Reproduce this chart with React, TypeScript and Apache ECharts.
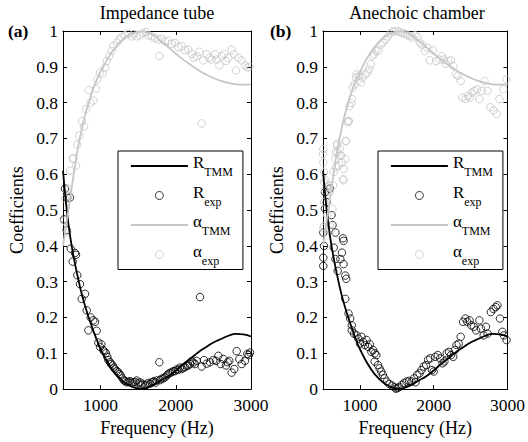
import React, { useEffect, useRef } from 'react';
import * as echarts from 'echarts';

const FONT = 'Liberation Serif';
const GRAY = '#c6c6c6';

const xTicks = [1000, 2000, 3000];
const yTickLabels = ['0', '0.1', '0.2', '0.3', '0.4', '0.5', '0.6', '0.7', '0.8', '0.9', '1'];
const panelTitles = ['Impedance tube', 'Anechoic chamber'];
const panelTags = ['(a)', '(b)'];
const seriesNames = ['RTMM', 'Rexp', 'αTMM', 'αexp'];

// Model curves (same in both panels)
const freqTMM = [500, 550, 600, 650, 700, 750, 800, 850, 900, 950, 1000, 1100, 1200, 1300, 1400, 1500, 1550, 1600, 1700, 1800, 1900, 2000, 2100, 2200, 2300, 2400, 2500, 2600, 2700, 2800, 2900, 3000];
const rTMM = [0.61, 0.5, 0.42, 0.36, 0.31, 0.265, 0.228, 0.195, 0.165, 0.137, 0.112, 0.072, 0.042, 0.021, 0.008, 0.002, 0.001, 0.003, 0.012, 0.024, 0.036, 0.052, 0.07, 0.086, 0.103, 0.117, 0.13, 0.14, 0.149, 0.154, 0.153, 0.147];
const alphaTMM = [0.4, 0.47, 0.54, 0.61, 0.675, 0.725, 0.77, 0.805, 0.838, 0.864, 0.885, 0.925, 0.955, 0.978, 0.992, 0.998, 0.999, 0.997, 0.988, 0.972, 0.955, 0.937, 0.92, 0.905, 0.891, 0.879, 0.869, 0.861, 0.855, 0.851, 0.85, 0.851];

// (a) Impedance tube measurements
const tubeRexp = [
  [513, 0.474], [527, 0.56], [557, 0.534], [593, 0.535], [549, 0.444], [602, 0.392], [629, 0.356], [660, 0.38], [673, 0.375], [690, 0.318],
  [726, 0.293], [749, 0.252], [793, 0.266], [815, 0.22], [837, 0.164], [868, 0.2], [903, 0.192], [926, 0.188], [948, 0.163], [970, 0.13],
  [992, 0.118], [1010, 0.125], [1036, 0.109], [1050, 0.105], [1072, 0.1], [1090, 0.09], [1103, 0.081], [1125, 0.075], [1140, 0.07], [1161, 0.066],
  [1175, 0.06], [1192, 0.056], [1215, 0.05], [1236, 0.047], [1250, 0.042], [1267, 0.038], [1290, 0.03], [1311, 0.024], [1330, 0.022], [1347, 0.019],
  [1370, 0.02], [1391, 0.022], [1415, 0.018], [1436, 0.019], [1460, 0.02], [1480, 0.024], [1500, 0.016], [1524, 0.019], [1540, 0.012], [1560, 0.015],
  [1591, 0.01], [1610, 0.012], [1635, 0.017], [1660, 0.015], [1680, 0.019], [1695, 0.02], [1710, 0.022], [1730, 0.018], [1746, 0.024], [1781, 0.075],
  [1790, 0.025], [1812, 0.029], [1835, 0.03], [1856, 0.033], [1880, 0.038], [1900, 0.042], [1920, 0.045], [1945, 0.047], [1965, 0.05], [1989, 0.05],
  [2010, 0.055], [2033, 0.054], [2055, 0.06], [2078, 0.056], [2100, 0.06], [2122, 0.061], [2145, 0.065], [2166, 0.066], [2190, 0.07], [2211, 0.078],
  [2235, 0.074], [2255, 0.07], [2278, 0.079], [2322, 0.257], [2344, 0.063], [2375, 0.081], [2411, 0.071], [2455, 0.075], [2499, 0.081], [2535, 0.079],
  [2566, 0.093], [2597, 0.07], [2632, 0.084], [2668, 0.066], [2690, 0.075], [2712, 0.079], [2743, 0.046], [2778, 0.056], [2810, 0.106], [2845, 0.084],
  [2876, 0.07], [2920, 0.079], [2951, 0.098], [2970, 0.095], [2987, 0.102],
];
const tubeAexp = [
  [513, 0.47], [527, 0.532], [549, 0.555], [560, 0.44], [570, 0.56], [593, 0.61], [629, 0.643], [637, 0.645], [673, 0.624], [690, 0.683],
  [717, 0.708], [753, 0.748], [779, 0.733], [806, 0.782], [842, 0.835], [868, 0.8], [903, 0.806], [939, 0.839], [956, 0.865], [992, 0.884],
  [1028, 0.881], [1059, 0.898], [1081, 0.916], [1116, 0.93], [1147, 0.944], [1169, 0.958], [1214, 0.967], [1249, 0.976], [1280, 0.983], [1324, 0.988],
  [1369, 0.992], [1413, 0.985], [1444, 0.992], [1480, 0.985], [1524, 0.988], [1568, 0.994], [1604, 0.997], [1635, 0.988], [1680, 0.985], [1723, 0.98],
  [1767, 0.976], [1781, 0.93], [1812, 0.978], [1856, 0.971], [1900, 0.973], [1945, 0.964], [1989, 0.967], [2033, 0.955], [2078, 0.958], [2122, 0.946],
  [2166, 0.948], [2211, 0.936], [2242, 0.925], [2278, 0.93], [2313, 0.942], [2344, 0.742], [2366, 0.918], [2411, 0.935], [2446, 0.925], [2477, 0.92],
  [2521, 0.935], [2544, 0.92], [2579, 0.904], [2610, 0.93], [2641, 0.936], [2668, 0.916], [2699, 0.925], [2743, 0.948], [2774, 0.935], [2800, 0.89],
  [2832, 0.925], [2876, 0.918], [2920, 0.904], [2951, 0.898], [2978, 0.9],
];

// (b) Anechoic chamber measurements
const chamberRexp = [
  [504, 0.437], [513, 0.4], [504, 0.367], [504, 0.344], [527, 0.55], [549, 0.522], [527, 0.504], [593, 0.56], [616, 0.486], [629, 0.458],
  [669, 0.437], [646, 0.395], [669, 0.363], [699, 0.33], [735, 0.363], [757, 0.381], [779, 0.414], [771, 0.421], [779, 0.349], [802, 0.317],
  [815, 0.308], [802, 0.252], [846, 0.211], [868, 0.197], [890, 0.178], [890, 0.164], [921, 0.155], [956, 0.15], [979, 0.141], [1001, 0.127],
  [1023, 0.146], [1045, 0.132], [1068, 0.123], [1090, 0.137], [1112, 0.118], [1134, 0.125], [1156, 0.104], [1178, 0.109], [1201, 0.1], [1223, 0.095],
  [1200, 0.077], [1245, 0.067], [1267, 0.058], [1289, 0.049], [1311, 0.04], [1334, 0.03], [1365, 0.021], [1400, 0.014], [1436, 0.01], [1467, 0.005],
  [1489, 0.001], [1511, 0.003], [1534, 0.006], [1569, 0.012], [1600, 0.017], [1631, 0.021], [1667, 0.023], [1702, 0.021], [1733, 0.03], [1754, 0.019],
  [1777, 0.04], [1808, 0.044], [1834, 0.053], [1866, 0.063], [1897, 0.067], [1924, 0.082], [1954, 0.086], [1977, 0.053], [2000, 0.049], [2021, 0.09],
  [2056, 0.095], [2087, 0.086], [2119, 0.072], [2145, 0.077], [2176, 0.1], [2207, 0.104], [2234, 0.095], [2265, 0.09], [2287, 0.109], [2309, 0.123],
  [2340, 0.127], [2366, 0.146], [2398, 0.188], [2429, 0.197], [2455, 0.188], [2486, 0.192], [2508, 0.178], [2544, 0.174], [2575, 0.164], [2619, 0.192],
  [2641, 0.169], [2677, 0.15], [2708, 0.174], [2730, 0.155], [2774, 0.215], [2810, 0.224], [2841, 0.229], [2863, 0.234], [2898, 0.197], [2930, 0.16],
  [2951, 0.15], [2987, 0.137],
];
const chamberAexp = [
  [500, 0.656], [504, 0.633], [513, 0.606], [513, 0.578], [504, 0.67], [536, 0.583], [527, 0.555], [549, 0.564], [513, 0.522], [557, 0.486],
  [504, 0.449], [513, 0.455], [580, 0.569], [593, 0.55], [593, 0.458], [602, 0.441], [629, 0.504], [637, 0.569], [646, 0.606], [669, 0.643],
  [673, 0.661], [673, 0.62], [690, 0.68], [699, 0.661], [713, 0.624], [735, 0.652], [748, 0.652], [757, 0.633], [770, 0.587], [779, 0.615],
  [779, 0.583], [802, 0.643], [815, 0.693], [690, 0.685], [726, 0.671], [806, 0.692], [837, 0.745], [846, 0.749], [850, 0.748], [859, 0.79],
  [882, 0.798], [895, 0.81], [903, 0.842], [926, 0.851], [948, 0.87], [957, 0.879], [983, 0.862], [992, 0.875], [1014, 0.856], [1036, 0.87],
  [1072, 0.879], [1103, 0.884], [1125, 0.893], [1147, 0.907], [1169, 0.93], [1192, 0.935], [1214, 0.944], [1249, 0.946], [1280, 0.962], [1311, 0.967],
  [1347, 0.976], [1382, 0.985], [1413, 0.994], [1444, 0.999], [1480, 1.0], [1515, 0.999], [1547, 0.997], [1577, 0.994], [1613, 0.992], [1648, 0.988],
  [1680, 0.985], [1714, 0.981], [1746, 0.988], [1781, 0.983], [1812, 0.967], [1843, 0.962], [1879, 0.944], [1914, 0.953], [1945, 0.918], [1989, 0.946],
  [2033, 0.916], [2078, 0.92], [2109, 0.93], [2136, 0.92], [2166, 0.909], [2198, 0.916], [2233, 0.918], [2269, 0.902], [2300, 0.879], [2331, 0.875],
  [2366, 0.86], [2389, 0.814], [2433, 0.81], [2464, 0.819], [2491, 0.814], [2521, 0.828], [2552, 0.833], [2588, 0.837], [2619, 0.81], [2655, 0.833],
  [2690, 0.86], [2730, 0.833], [2765, 0.787], [2810, 0.778], [2854, 0.768], [2890, 0.81], [2943, 0.837], [2987, 0.865],
];

const panelData = [
  { rexp: tubeRexp, aexp: tubeAexp },
  { rexp: chamberRexp, aexp: chamberAexp },
];

const GRID_LEFTS = [63, 323];
const GRID_TOP = 31;
const GRID_W = 188;
const GRID_H = 361;

export default function App() {
  const ref = useRef<HTMLDivElement>(null);
  useEffect(() => {
    if (!ref.current) return;
    const chart = echarts.init(ref.current, undefined, { renderer: 'svg' });

    const axisLine = { show: true, onZero: false, lineStyle: { color: '#000', width: 1 } };
    const tickStyle = { show: true, inside: true, length: 4, lineStyle: { color: '#000', width: 1 } };
    const tickFont = { fontFamily: FONT, fontSize: 17.5, color: '#000', fontWeight: 'normal' };
    const nameFont = { fontFamily: FONT, fontSize: 18, color: '#000', fontWeight: 'normal' };
    const tickText = { ...tickFont, rich: { t: { ...tickFont } } };
    const nameText = { ...nameFont, rich: { t: { ...nameFont } } };
    const hidden = { color: 'rgba(0,0,0,0)', borderColor: 'rgba(0,0,0,0)', borderWidth: 0 };

    const xAxis: any[] = [];
    const yAxis: any[] = [];
    const series: any[] = [];
    const legends: any[] = [];
    const graphics: any[] = [];

    [0, 1].forEach((g) => {
      xAxis.push({
        gridIndex: g, type: 'value', min: 500, max: 3000, position: 'bottom',
        axisLine, axisTick: { ...tickStyle, customValues: xTicks },
        axisLabel: { ...tickText, margin: 7, customValues: xTicks, formatter: (v: number) => `{t|${v}}` },
        splitLine: { show: false },
        name: '{t|Frequency (Hz)}', nameLocation: 'middle', nameGap: 26,
        nameTextStyle: { ...nameText },
      });
      xAxis.push({
        gridIndex: g, type: 'value', min: 500, max: 3000, position: 'top',
        axisLine, axisTick: { ...tickStyle, customValues: xTicks },
        axisLabel: { show: false }, splitLine: { show: false },
      });
      yAxis.push({
        gridIndex: g, type: 'value', min: 0, max: 1, interval: 0.1, position: 'left',
        axisLine, axisTick: tickStyle,
        axisLabel: { ...tickText, margin: 5, formatter: (_v: number, i: number) => `{t|${yTickLabels[i]}}` },
        splitLine: { show: false },
        name: '{t|Coefficients}', nameLocation: 'middle', nameGap: 37, nameRotate: 90,
        nameTextStyle: { ...nameText },
      });
      yAxis.push({
        gridIndex: g, type: 'value', min: 0, max: 1, interval: 0.1, position: 'right',
        axisLine, axisTick: tickStyle, axisLabel: { show: false }, splitLine: { show: false },
      });

      const xi = g * 2;
      const yi = g * 2;
      series.push({
        name: seriesNames[0], type: 'line', xAxisIndex: xi, yAxisIndex: yi,
        data: freqTMM.map((f, i) => [f, rTMM[i]]), symbol: 'none', smooth: true,
        lineStyle: { color: '#000', width: 1.8 }, itemStyle: { color: '#000' },
      });
      series.push({
        name: seriesNames[1], type: 'scatter', xAxisIndex: xi, yAxisIndex: yi,
        data: panelData[g].rexp, symbol: 'circle', symbolSize: 7.5,
        itemStyle: { color: 'rgba(0,0,0,0)', borderColor: '#000', borderWidth: 1 },
      });
      series.push({
        name: seriesNames[2], type: 'line', xAxisIndex: xi, yAxisIndex: yi,
        data: freqTMM.map((f, i) => [f, alphaTMM[i]]), symbol: 'none', smooth: true,
        lineStyle: { color: GRAY, width: 1.8 }, itemStyle: { color: GRAY },
      });
      series.push({
        name: seriesNames[3], type: 'scatter', xAxisIndex: xi, yAxisIndex: yi,
        data: panelData[g].aexp, symbol: 'circle', symbolSize: 7.5,
        itemStyle: { color: 'rgba(0,0,0,0)', borderColor: GRAY, borderWidth: 1 },
      });

      legends.push({
        orient: 'vertical', left: g === 0 ? 118 : 378, top: 151,
        padding: [3, 10, 3, 12], itemWidth: 57, itemHeight: 8, itemGap: 5.5,
        backgroundColor: '#fff', borderColor: '#000', borderWidth: 1, borderRadius: 0,
        selectedMode: false,
        data: [
          { name: seriesNames[0], itemStyle: hidden, lineStyle: { color: '#000', width: 1.8 } },
          { name: seriesNames[1], icon: 'circle', itemStyle: { color: 'rgba(0,0,0,0)', borderColor: '#000', borderWidth: 1 } },
          { name: seriesNames[2], itemStyle: hidden, lineStyle: { color: GRAY, width: 1.8 } },
          { name: seriesNames[3], icon: 'circle', itemStyle: { color: 'rgba(0,0,0,0)', borderColor: GRAY, borderWidth: 1 } },
        ],
        formatter: (name: string) => `{m|${name.charAt(0)}}{s|${name.slice(1)}}`,
        textStyle: {
          color: '#000', fontFamily: FONT,
          rich: {
            m: { fontFamily: FONT, fontSize: 17, lineHeight: 24, verticalAlign: 'top', color: '#000' },
            s: { fontFamily: FONT, fontSize: 12, lineHeight: 24, verticalAlign: 'bottom', color: '#000' },
          },
        },
      });

      const cx = GRID_LEFTS[g] + GRID_W / 2;
      graphics.push({
        type: 'text', x: cx, y: 13,
        style: { text: panelTitles[g], fontFamily: FONT, fontSize: 18, fill: '#000', align: 'center', verticalAlign: 'middle' },
      });
      graphics.push({
        type: 'text', x: g === 0 ? 8 : 270, y: 31,
        style: { text: panelTags[g], fontFamily: FONT, fontSize: 17.5, fontWeight: 'bold', fill: '#000', align: 'left', verticalAlign: 'middle' },
      });
    });

    chart.setOption({
      animation: false,
      backgroundColor: '#fff',
      textStyle: { fontFamily: FONT, color: '#000' },
      grid: GRID_LEFTS.map((l) => ({ left: l, top: GRID_TOP, width: GRID_W, height: GRID_H, containLabel: false })),
      xAxis,
      yAxis,
      legend: legends,
      series,
      graphic: graphics,
    });
    return () => chart.dispose();
  }, []);

  return <div ref={ref} style={{ position: 'fixed', left: 0, top: 0, width: 528, height: 442 }} />;
}
